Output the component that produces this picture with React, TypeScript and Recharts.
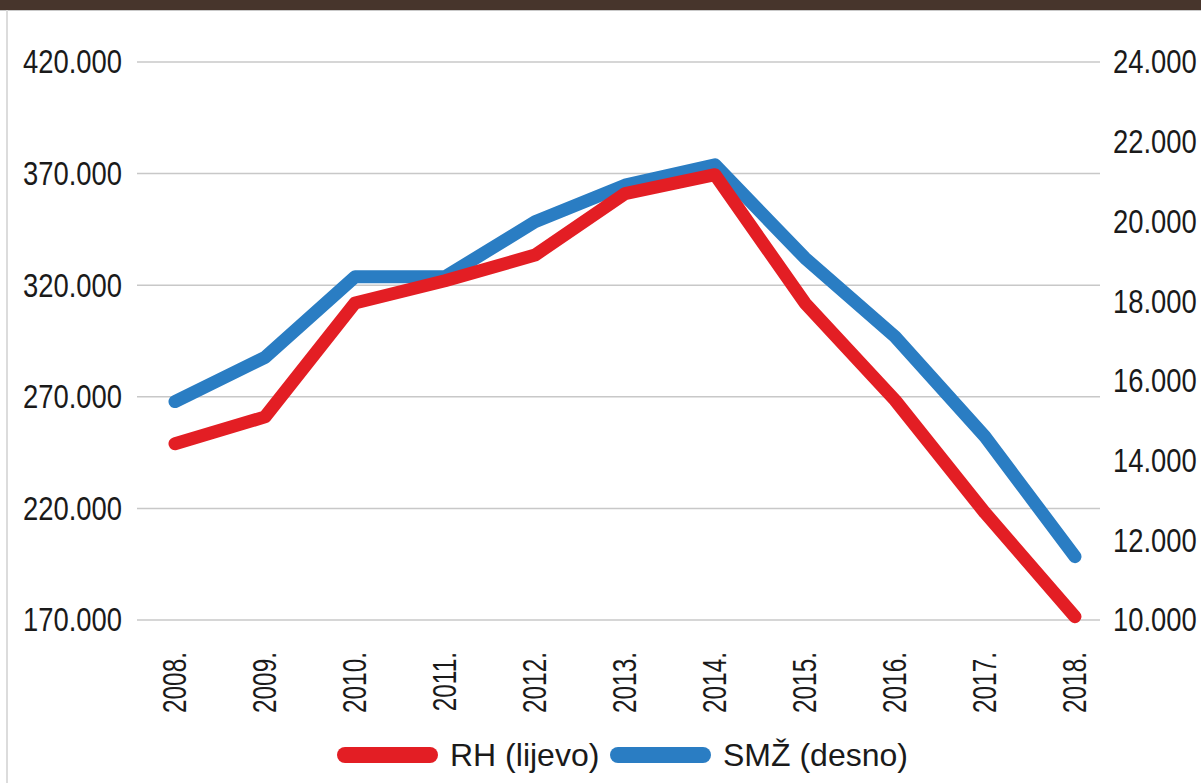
import { LineChart, Line, XAxis, YAxis, CartesianGrid } from 'recharts'

// godine i vrijednosti očitane s grafikona
const years = ['2008.', '2009.', '2010.', '2011.', '2012.', '2013.', '2014.', '2015.', '2016.', '2017.', '2018.']
const rhValues = [249000, 261000, 312000, 322000, 333500, 361000, 369500, 312000, 268500, 218000, 171500]
const smzValues = [15480, 16590, 18610, 18610, 19990, 20910, 21420, 19080, 17110, 14600, 11590]
const leftTicks = [170000, 220000, 270000, 320000, 370000, 420000]
const rightTicks = [10000, 12000, 14000, 16000, 18000, 20000, 22000, 24000]

const RED = '#e31e24'
const BLUE = '#2a7dc3'
const TEXT = '#1a1a1a'
const FONT = '"Liberation Sans", Arial, sans-serif'

const fmt = (v: number) => String(v).replace(/\B(?=(\d{3})+(?!\d))/g, '.')

const data = years.map((year, i) => ({ year, rh: rhValues[i], smz: smzValues[i] }))

// uski font: vodoravno sabijeni Liberation Sans
const NumTick = ({ x, y, payload, textAnchor }: any) => (
  <g transform={`translate(${x}, ${y}) scale(0.83, 1)`}>
    <text
      x={0}
      y={0}
      textAnchor={textAnchor}
      dominantBaseline="central"
      fontSize={33}
      fontFamily={FONT}
      fill={TEXT}
    >
      {fmt(payload.value)}
    </text>
  </g>
)

// okomite oznake godina
const YearTick = ({ x, y, payload }: any) => (
  <g transform={`translate(${x}, ${y}) rotate(-90) scale(0.74, 1)`}>
    <text
      x={0}
      y={0}
      textAnchor="end"
      dominantBaseline="central"
      fontSize={33}
      fontFamily={FONT}
      fill={TEXT}
    >
      {payload.value}
    </text>
  </g>
)

const legendItems = [
  { label: 'RH (lijevo)', color: RED, left: 337 },
  { label: 'SMŽ (desno)', color: BLUE, left: 610 },
]

export default function App() {
  return (
    <div style={{ position: 'absolute', left: 0, top: 0, width: 1201, height: 783, background: '#fff', overflow: 'hidden' }}>
      <div style={{ position: 'absolute', left: 0, top: 0, width: 1201, height: 10, background: '#47352c' }} />
      <div style={{ position: 'absolute', left: 0, top: 10, width: 1201, height: 1, background: '#c9c9c9' }} />
      <div style={{ position: 'absolute', left: 6, top: 10, width: 2, height: 773, background: '#dcdcdc' }} />

      <div style={{ position: 'absolute', left: 0, top: 0 }}>
        <LineChart width={1201} height={783} data={data} margin={{ top: 62, right: 0, left: 0, bottom: 63 }}>
          <CartesianGrid yAxisId="left" vertical={false} stroke="#c8c8c8" strokeWidth={1.5} />
          <XAxis
            dataKey="year"
            height={100}
            padding={{ left: 38, right: 25 }}
            axisLine={false}
            tickLine={false}
            tickSize={0}
            tickMargin={32}
            interval={0}
            tick={<YearTick />}
          />
          <YAxis
            yAxisId="left"
            width={137}
            domain={[170000, 420000]}
            ticks={leftTicks}
            axisLine={false}
            tickLine={false}
            tickSize={0}
            tickMargin={15}
            tick={<NumTick />}
          />
          <YAxis
            yAxisId="right"
            orientation="right"
            width={101}
            domain={[10000, 24000]}
            ticks={rightTicks}
            axisLine={false}
            tickLine={false}
            tickSize={0}
            tickMargin={13}
            tick={<NumTick />}
          />
          <Line
            yAxisId="right"
            dataKey="smz"
            type="linear"
            stroke={BLUE}
            strokeWidth={13}
            strokeLinecap="round"
            strokeLinejoin="round"
            dot={false}
            isAnimationActive={false}
          />
          <Line
            yAxisId="left"
            dataKey="rh"
            type="linear"
            stroke={RED}
            strokeWidth={13}
            strokeLinecap="round"
            strokeLinejoin="round"
            dot={false}
            isAnimationActive={false}
          />
        </LineChart>
      </div>

      {legendItems.map((item) => (
        <div
          key={item.label}
          style={{ position: 'absolute', left: item.left, top: 731, height: 48, display: 'flex', alignItems: 'center' }}
        >
          <div style={{ width: 101, height: 16, borderRadius: 8, background: item.color }} />
          <span style={{ marginLeft: 12, fontSize: 32, fontFamily: FONT, color: TEXT, lineHeight: '48px' }}>
            {item.label}
          </span>
        </div>
      ))}
    </div>
  )
}
